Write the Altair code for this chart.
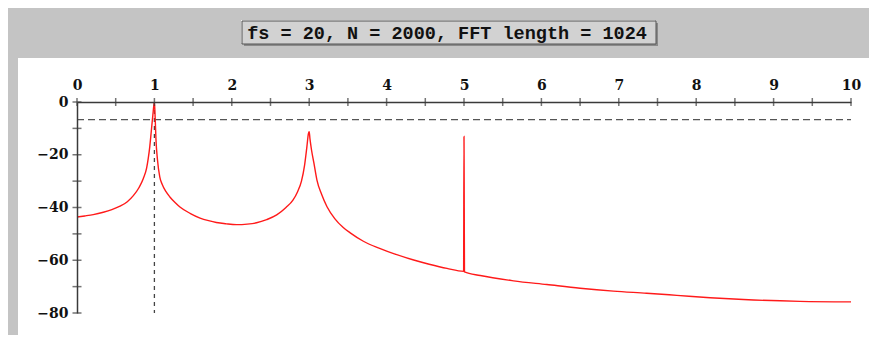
import altair as alt
import pandas as pd

# ---- data ----
freq_hz = [0.0, 0.1, 0.21, 0.34, 0.45, 0.556, 0.65, 0.728, 0.8, 0.857, 0.9, 0.92, 0.94,
           0.96, 0.98, 1.0, 1.01, 1.02, 1.04, 1.07, 1.1, 1.15, 1.2, 1.27, 1.33, 1.46,
           1.59, 1.7, 1.8, 1.93, 2.06, 2.2, 2.32, 2.45, 2.58, 2.7, 2.79, 2.85, 2.9,
           2.94, 2.97, 2.99, 3.0, 3.01, 3.03, 3.06, 3.1, 3.16, 3.23, 3.33, 3.44, 3.53,
           3.7, 3.91, 4.1, 4.35, 4.55, 4.78, 4.995, 5.0, 5.003, 5.006,
           5.21, 5.64, 6.07, 6.5, 6.93, 7.36, 7.75, 8.18, 8.61, 9.34, 10.0]
level_db = [-43.6, -43.2, -42.7, -41.8, -40.8, -39.5, -37.8, -35.5, -32.5, -29.0, -25.0, -21.5, -17.0,
            -11.0, -5.0, 0.0, -6.0, -14.0, -22.0, -28.5, -31.2, -34.0, -36.0, -38.2, -39.8, -42.2,
            -44.0, -45.0, -45.7, -46.2, -46.5, -46.3, -45.8, -44.6, -42.8, -40.0, -37.2, -34.0, -30.0,
            -24.0, -17.0, -12.0, -11.3, -14.0, -18.2, -23.0, -29.6, -35.0, -39.7, -44.2, -47.6, -49.6,
            -52.8, -55.5, -57.6, -59.9, -61.5, -63.1, -64.2, -13.1, -39.0, -64.4,
            -65.8, -67.8, -69.2, -70.6, -71.7, -72.5, -73.3, -74.2, -74.9, -75.6, -75.8]

x_labels = [0, 1, 2, 3, 4, 5, 6, 7, 8, 9, 10]
x_ticks = [0, 0.5, 1, 1.5, 2, 2.5, 3, 3.5, 4, 4.5, 5, 5.5, 6, 6.5, 7, 7.5, 8, 8.5, 9, 9.5, 10]
y_labels = [0, -20, -40, -60, -80]
y_ticks = [0, -10, -20, -30, -40, -50, -60, -70, -80]

threshold_db = -6.7
marker_freq = 1.0
title_text = "fs = 20, N = 2000, FFT length = 1024"

spec = pd.DataFrame({"f": freq_hz, "db": level_db})
spec["idx"] = range(len(spec))
xt = pd.DataFrame({"f": x_ticks})
yt = pd.DataFrame({"db": y_ticks})
hline = pd.DataFrame({"f": [0], "f2": [10], "db": [threshold_db]})
vline = pd.DataFrame({"f": [marker_freq], "db": [0], "db2": [-80]})
one = pd.DataFrame({"k": [0]})

W, H = 774, 211
AX = "#3a3a3a"
LABEL = dict(labelFont="DejaVu Serif", labelFontWeight="bold", labelFontSize=14,
             labelColor="#111111")

X = alt.X("f:Q", scale=alt.Scale(domain=[0, 10], nice=False, zero=False),
          axis=alt.Axis(orient="top", values=x_labels, ticks=False, tickSize=0,
                        labelPadding=10, domainColor=AX, domainWidth=1.5, grid=False,
                        title=None, zindex=1, labelFlush=False, format="d", **LABEL))
Y = alt.Y("db:Q", scale=alt.Scale(domain=[-80, 0], nice=False, zero=False),
          axis=alt.Axis(orient="left", values=y_labels, ticks=False, tickSize=0,
                        labelPadding=9, domainColor=AX, domainWidth=1.5, grid=False,
                        title=None, zindex=1, format="d", **LABEL))

panel = alt.Chart(one).mark_rect(color="white").encode(
    x=alt.value(-59), x2=alt.value(793), y=alt.value(-44), y2=alt.value(H + 22))

box_shadow = alt.Chart(one).mark_rect(color="#8a8a8a").encode(
    x=alt.value(167), x2=alt.value(581), y=alt.value(-79), y2=alt.value(-56))
box_hi = alt.Chart(one).mark_rect(color="#f2f2f2").encode(
    x=alt.value(164), x2=alt.value(578), y=alt.value(-82), y2=alt.value(-59))
box = alt.Chart(one).mark_rect(color="#d2d2d2", stroke="#555555", strokeWidth=1).encode(
    x=alt.value(165), x2=alt.value(579), y=alt.value(-81), y2=alt.value(-58))
title = alt.Chart(one).mark_text(
    text=title_text, font="Liberation Mono", fontWeight="bold", fontSize=18.5,
    color="#111111", align="center", baseline="middle").encode(
    x=alt.value(370), y=alt.value(-69))

h_rule = alt.Chart(hline).mark_rule(color="#555555", strokeWidth=1.3,
                                    strokeDash=[7, 4]).encode(x=X, x2="f2:Q", y=Y)
v_rule = alt.Chart(vline).mark_rule(color="#444444", strokeWidth=1.3,
                                    strokeDash=[4, 4]).encode(x=X, y=Y, y2="db2:Q")

line = alt.Chart(spec).mark_line(color="#ff1a1a", strokeWidth=1.4, clip=True,
                                 interpolate="monotone").encode(
    x=X, y=Y, order="idx:Q")

x_tick_marks = alt.Chart(xt).mark_tick(orient="vertical", color=AX, size=8,
                                       thickness=1.5).encode(x=X, y=alt.value(0))
y_tick_marks = alt.Chart(yt).mark_tick(orient="horizontal", color=AX, size=9,
                                       thickness=1.5).encode(y=Y, x=alt.value(0))

chart = alt.layer(panel, box_shadow, box_hi, box, title, h_rule, v_rule, line,
                  x_tick_marks, y_tick_marks).properties(
    width=W, height=H,
    autosize=alt.AutoSizeParams(type="none"),
    padding={"left": 69, "top": 94, "right": 18, "bottom": 22},
    background="#c4c4c4",
).configure_view(stroke=None)

chart.save("out.html", embed_options={"renderer": "svg", "actions": False})
